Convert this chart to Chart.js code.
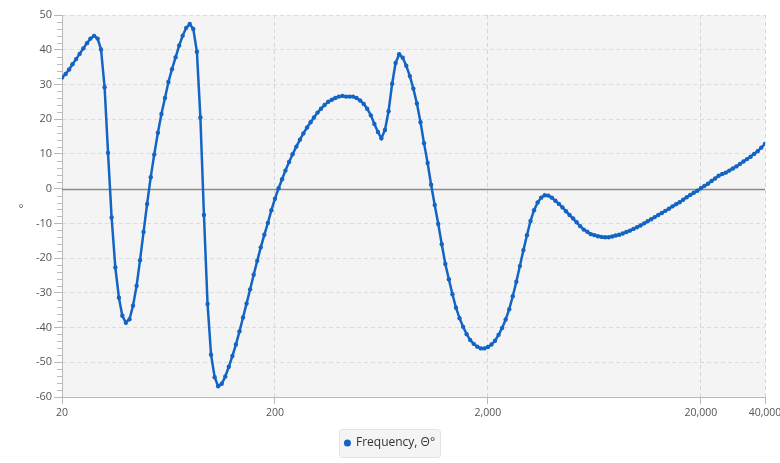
<!DOCTYPE html>
<html>
<head>
<meta charset="utf-8">
<script src="https://cdn.jsdelivr.net/npm/chart.js@4.4.0/dist/chart.umd.min.js"></script>
<style>
  html, body { margin: 0; padding: 0; background: #fff; }
  #wrap { width: 780px; height: 463px; }
</style>
</head>
<body>
<div id="wrap"><canvas id="chart"></canvas></div>
<script>
// sweep frequencies (Hz), 60 points per decade
const frequencies = [
  20, 20.8, 21.6, 22.4, 23.3, 24.2, 25.2, 26.2, 27.2, 28.3, 29.4, 30.5, 31.7, 32.9, 34.2, 35.6, 37.0, 38.4, 39.9, 41.5,
  43.1, 44.8, 46.5, 48.3, 50.2, 52.2, 54.2, 56.4, 58.6, 60.9, 63.2, 65.7, 68.3, 71.0, 73.7, 76.6, 79.6, 82.7, 86.0, 89.3,
  92.8, 96.5, 100.2, 104.2, 108.2, 112.5, 116.9, 121.4, 126.2, 131.1, 136.3, 141.6, 147.1, 152.9, 158.9, 165.1, 171.5, 178.3, 185.2, 192.5,
  200, 208, 216, 224, 233, 242, 252, 262, 272, 283, 294, 305, 317, 329, 342, 356, 370, 384, 399, 415,
  431, 448, 465, 483, 502, 522, 542, 564, 586, 609, 632, 657, 683, 710, 737, 766, 796, 827, 860, 893,
  928, 965, 1002, 1042, 1082, 1125, 1169, 1214, 1262, 1311, 1363, 1416, 1471, 1529, 1589, 1651, 1715, 1783, 1852, 1925,
  2000, 2078, 2160, 2244, 2332, 2423, 2518, 2616, 2719, 2825, 2936, 3050, 3170, 3294, 3423, 3557, 3696, 3840, 3991, 4147,
  4309, 4477, 4653, 4835, 5024, 5220, 5425, 5637, 5857, 6086, 6325, 6572, 6829, 7096, 7374, 7662, 7962, 8274, 8597, 8934,
  9283, 9646, 10024, 10416, 10823, 11247, 11687, 12144, 12619, 13113, 13626, 14159, 14713, 15288, 15887, 16508, 17154, 17825, 18522, 19247,
  20000, 20783, 21596, 22440, 23318, 24230, 25178, 26164, 27188, 28250, 29356, 30504, 31698, 32938, 34227, 35566, 36957, 38403, 40000
];

// phase in degrees
const phase = [
  32.0, 33.0, 34.3, 35.8, 37.3, 38.8, 40.4, 41.9, 43.2, 44.0, 43.2, 40.1, 29.2, 10.3, -8.3, -22.7, -31.4, -36.6, -38.6, -37.6,
  -33.7, -28.0, -20.6, -12.5, -4.4, 3.3, 9.8, 16.1, 21.5, 26.1, 30.7, 34.4, 37.8, 41.2, 44.0, 46.3, 47.4, 46.0, 39.4, 20.5,
  -7.6, -33.2, -47.8, -54.3, -56.9, -56.2, -54.1, -51.3, -48.2, -44.9, -41.1, -37.1, -33.1, -29.0, -24.8, -20.8, -16.9, -13.3, -9.9, -6.2,
  -2.9, 0.1, 2.7, 5.2, 7.7, 9.9, 12.1, 14.1, 15.9, 17.6, 19.1, 20.5, 21.9, 23.0, 24.1, 25.0, 25.6, 26.1, 26.5, 26.7,
  26.5, 26.5, 26.5, 26.1, 25.4, 24.4, 23.0, 21.1, 18.6, 16.3, 14.5, 16.9, 22.3, 30.2, 36.2, 38.7, 37.7, 35.4, 32.4, 28.8,
  24.5, 19.1, 13.1, 7.4, 1.1, -4.7, -10.2, -16.0, -21.7, -26.1, -30.4, -34.3, -37.3, -39.8, -41.9, -43.6, -44.7, -45.5, -46.0, -46.0,
  -45.6, -44.9, -43.8, -42.1, -40.1, -37.7, -34.7, -31.0, -26.8, -22.3, -17.7, -13.4, -9.3, -6.2, -4.0, -2.6, -1.9, -2.0, -2.6, -3.5,
  -4.4, -5.4, -6.5, -7.6, -8.6, -9.7, -10.8, -11.8, -12.4, -13.1, -13.4, -13.7, -13.9, -14.0, -14.0, -13.8, -13.5, -13.3, -12.9, -12.5,
  -12.1, -11.6, -11.1, -10.6, -10.0, -9.4, -8.8, -8.2, -7.6, -7.0, -6.4, -5.8, -5.1, -4.5, -3.9, -3.2, -2.5, -1.8, -1.2, -0.6,
  0.1, 0.8, 1.4, 2.2, 2.9, 3.7, 4.2, 4.6, 5.2, 5.8, 6.4, 7.1, 7.8, 8.5, 9.2, 10.0, 10.8, 11.8, 12.9
];

const xTicks = [20, 200, 2000, 20000, 40000];
const yMin = -60;
const yMax = 50;

const lineColor = '#1464c4';
const fontFamily = '"Open Sans", "Noto Sans", sans-serif';

// plot background, zero line and the small minor ticks on the y axis
const plotDecor = {
  id: 'plotDecor',
  beforeDraw(chart) {
    const { ctx, chartArea: a } = chart;
    ctx.save();
    ctx.fillStyle = '#f4f4f4';
    ctx.fillRect(a.left, a.top, a.right - a.left, a.bottom - a.top);
    ctx.restore();
  },
  beforeDatasetsDraw(chart) {
    const { ctx, chartArea: a, scales } = chart;
    const y0 = Math.round(scales.y.getPixelForValue(0)) + 0.5;
    ctx.save();
    ctx.strokeStyle = '#8a8a8a';
    ctx.lineWidth = 1.5;
    ctx.beginPath();
    ctx.moveTo(a.left, y0);
    ctx.lineTo(a.right, y0);
    ctx.stroke();

    ctx.strokeStyle = '#bdbdbd';
    ctx.lineWidth = 1;
    ctx.beginPath();
    for (let v = yMin; v <= yMax; v += 2) {
      if (v % 10 === 0) continue;
      const py = Math.round(scales.y.getPixelForValue(v)) + 0.5;
      ctx.moveTo(a.left - 5, py);
      ctx.lineTo(a.left, py);
    }
    ctx.stroke();
    ctx.restore();
  }
};

// centre the legend on the whole canvas and put a grey box behind it
const legendBox = {
  id: 'legendBox',
  afterLayout(chart) {
    const lg = chart.legend;
    if (!lg) return;
    lg.left = 0;
    lg.right = chart.width;
    lg.width = chart.width;
  },
  beforeDraw(chart) {
    const boxes = chart.legend && chart.legend.legendHitBoxes;
    if (!boxes || !boxes.length) return;
    const b = boxes[0];
    const ctx = chart.ctx;
    const x = Math.round(b.left - 6), y = Math.round(b.top - 8);
    const w = Math.round(b.width + 11), h = Math.round(b.height + 16);
    ctx.save();
    ctx.fillStyle = '#f4f4f4';
    ctx.strokeStyle = '#e2e2e2';
    ctx.lineWidth = 1;
    ctx.beginPath();
    ctx.roundRect(x + 0.5, y + 0.5, w, h, 3);
    ctx.fill();
    ctx.stroke();
    ctx.restore();
  }
};

new Chart(document.getElementById('chart'), {
  type: 'line',
  data: {
    labels: frequencies,
    datasets: [{
      label: 'Frequency, \u0398\u00b0',
      data: frequencies.map((f, i) => ({ x: f, y: phase[i] })),
      borderColor: lineColor,
      backgroundColor: lineColor,
      borderWidth: 2.5,
      pointRadius: 2.2,
      pointHoverRadius: 3,
      pointBorderWidth: 0,
      tension: 0
    }]
  },
  options: {
    responsive: true,
    maintainAspectRatio: false,
    animation: false,
    layout: { padding: { left: 0, right: 15, top: 15, bottom: 4 } },
    scales: {
      x: {
        type: 'logarithmic',
        min: 20,
        max: 40000,
        afterBuildTicks: (scale) => { scale.ticks = xTicks.map(v => ({ value: v })); },
        afterFit: (scale) => {
          scale.height = 30;
          scale.paddingLeft = 0;
          scale.paddingRight = 0;
        },
        ticks: {
          autoSkip: false,
          maxRotation: 0,
          padding: 3,
          color: '#555',
          font: { family: fontFamily, size: 10.5 },
          callback: (v) => Number(v).toLocaleString('en-US')
        },
        grid: {
          color: '#d6d6d6',
          tickColor: '#b8b8b8',
          tickLength: 7
        },
        border: { color: '#b8b8b8', dash: [4, 3] }
      },
      y: {
        min: yMin,
        max: yMax,
        afterFit: (scale) => { scale.width = 62; },
        ticks: {
          stepSize: 10,
          padding: 2,
          color: '#555',
          font: { family: fontFamily, size: 11 }
        },
        grid: {
          color: (c) => (c.tick && c.tick.value === 0 ? 'rgba(0,0,0,0)' : '#dcdcdc'),
          tickColor: '#b8b8b8',
          tickLength: 8
        },
        border: { color: '#b8b8b8', dash: [4, 3] },
        title: {
          display: true,
          text: '\u00b0',
          color: '#333',
          padding: { top: 17, bottom: 0 },
          font: { family: fontFamily, size: 11 }
        }
      }
    },
    plugins: {
      legend: {
        display: true,
        position: 'bottom',
        labels: {
          usePointStyle: true,
          pointStyle: 'circle',
          boxWidth: 5,
          boxHeight: 5,
          padding: 10,
          color: '#333',
          font: { family: fontFamily, size: 12 }
        }
      },
      tooltip: { enabled: true }
    }
  },
  plugins: [plotDecor, legendBox]
});
</script>
</body>
</html>
